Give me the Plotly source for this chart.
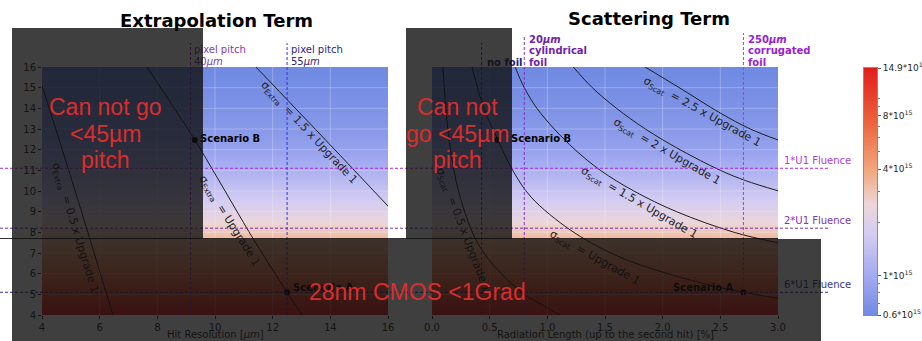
import math
import plotly.graph_objects as go

W, H = 922, 341

# ---------------- data ----------------
# background fluence profile (x10^15) versus the vertical axis value
fluence_y = [4, 5, 6, 7, 8, 9, 10, 11, 12, 13, 14, 15, 16]
fluence = [14.9, 9.2, 6.2, 4.3, 3.0, 2.1, 1.5, 1.12, 0.88, 0.76, 0.69, 0.64, 0.6]

cbar_vals = [0.6, 1, 4, 8, 14.9]
cbar_text = ["0.6*10<sup>15</sup>", "1*10<sup>15</sup>", "4*10<sup>15</sup>",
             "8*10<sup>15</sup>", "14.9*10<sup>15</sup>"]
cbar_minor = [0.7, 0.8, 0.9, 2, 3, 5, 6, 7, 9, 10]

left_xticks = [4, 6, 8, 10, 12, 14, 16]
right_xticks = [0.0, 0.5, 1.0, 1.5, 2.0, 2.5, 3.0]
right_xtext = ["0.0", "0.5", "1.0", "1.5", "2.0", "2.5", "3.0"]
yticks = list(range(4, 17))

# Extrapolation-term contours (hit resolution, y)
extra_05_x = [4.0, 5.15, 6.46]
extra_05_y = [15.1, 10.0, 4.0]
extra_1_x = [7.64, 9.3, 9.93, 11.35, 12.5, 13.02]
extra_1_y = [16, 12.47, 11.0, 7.63, 5.1, 4.0]
extra_15_x = [11.42, 13.95, 16.0]
extra_15_y = [16, 12.3, 9.27]

# Scattering-term contours (radiation length %, y)
scat_05_x = [0.095, 0.12, 0.16, 0.23, 0.35, 0.45, 0.60, 0.80, 0.95, 1.11]
scat_05_y = [16, 14, 12, 10, 8, 7, 6, 5, 4.5, 4]
scat_1_x = [0.347, 0.45, 0.572, 0.70, 0.86, 1.20, 1.55, 1.85, 2.35, 2.70, 3.0]
scat_1_y = [16, 14, 12.47, 11.0, 9.7, 8.11, 7.0, 6.34, 5.53, 5.1, 4.81]
scat_15_x = [0.72, 0.80, 0.91, 1.06, 1.24, 1.46, 1.75, 2.12, 2.62, 3.0]
scat_15_y = [16, 15, 14, 13, 12, 11, 10, 9, 8, 7.49]
scat_2_x = [1.225, 1.39, 1.60, 1.85, 2.15, 2.50, 2.72, 3.0]
scat_2_y = [16, 15, 14, 13, 12, 11, 10.5, 10.01]
scat_25_x = [1.847, 2.15, 2.50, 2.76, 3.0]
scat_25_y = [16, 14.98, 13.77, 13.0, 12.47]

scenario_left_x = [9.3, 12.5]
scenario_left_y = [12.47, 5.1]
scenario_right_x = [0.57, 2.70]
scenario_right_y = [12.47, 5.1]

fluence_levels = [11.1, 8.2, 5.1]
fluence_labels = ["1*U1 Fluence", "2*U1 Fluence", "6*U1 Fluence"]
pitch_x = [9.15, 12.5]
foil_x = [0.43, 0.8, 2.7]

# ---------------- helpers ----------------
def pxx(p):
    return p / W

def pxy(p):
    return 1 - p / H

FONT = "DejaVu Sans"
zmin, zmax = math.log10(0.6), math.log10(14.9)
cscale = [
    [0.0, "rgb(112,138,226)"],
    [0.15, "rgb(160,168,240)"],
    [0.33, "rgb(212,204,242)"],
    [0.45, "rgb(236,214,216)"],
    [0.58, "rgb(242,170,130)"],
    [0.78, "rgb(236,100,60)"],
    [1.0, "rgb(226,28,28)"],
]
zlog = [math.log10(v) for v in fluence]

fig = go.Figure()

# background heatmaps
fig.add_trace(go.Heatmap(x=[4, 16], y=fluence_y, z=[[v, v] for v in zlog],
                         colorscale=cscale, zmin=zmin, zmax=zmax, zsmooth="best",
                         showscale=False, hoverinfo="skip", xaxis="x", yaxis="y"))
fig.add_trace(go.Heatmap(x=[0, 3], y=fluence_y, z=[[v, v] for v in zlog],
                         colorscale=cscale, zmin=zmin, zmax=zmax, zsmooth="best",
                         showscale=False, hoverinfo="skip", xaxis="x2", yaxis="y"))
# colorbar as its own small heatmap
fig.add_trace(go.Heatmap(x=[0, 1], y=zlog, z=[[v, v] for v in zlog],
                         colorscale=cscale, zmin=zmin, zmax=zmax, zsmooth="best",
                         showscale=False, hoverinfo="skip", xaxis="x3", yaxis="y3"))

# grid lines
def grid(xt, xr, xa):
    gx, gy = [], []
    for t in xt[1:-1]:
        gx += [t, t, None]
        gy += [4, 16, None]
    for t in yticks[1:-1]:
        gx += [xr[0], xr[1], None]
        gy += [t, t, None]
    fig.add_trace(go.Scatter(x=gx, y=gy, mode="lines", xaxis=xa, yaxis="y",
                             line=dict(color="rgba(255,255,255,0.25)", width=1),
                             hoverinfo="skip", showlegend=False))

grid(left_xticks, [4, 16], "x")
grid(right_xticks, [0, 3], "x2")

def curve(xs, ys, xa):
    fig.add_trace(go.Scatter(x=xs, y=ys, mode="lines", xaxis=xa, yaxis="y",
                             line=dict(color="rgb(30,30,30)", width=1, shape="spline"),
                             hoverinfo="skip", showlegend=False, cliponaxis=True))

for xs, ys in [(extra_05_x, extra_05_y), (extra_1_x, extra_1_y), (extra_15_x, extra_15_y)]:
    curve(xs, ys, "x")
for xs, ys in [(scat_05_x, scat_05_y), (scat_1_x, scat_1_y), (scat_15_x, scat_15_y),
               (scat_2_x, scat_2_y), (scat_25_x, scat_25_y)]:
    curve(xs, ys, "x2")

fig.add_trace(go.Scatter(x=scenario_left_x, y=scenario_left_y, mode="markers", xaxis="x", yaxis="y",
                         marker=dict(color="black", size=6), showlegend=False, hoverinfo="skip"))
fig.add_trace(go.Scatter(x=scenario_right_x, y=scenario_right_y, mode="markers", xaxis="x2", yaxis="y",
                         marker=dict(color="black", size=6), showlegend=False, hoverinfo="skip"))

# ---------------- shapes (lines) ----------------
shapes = []
lvl_cols = ["rgb(170,40,230)", "rgb(115,50,175)", "rgb(45,45,145)"]
for lv, c in zip(fluence_levels, lvl_cols):
    shapes.append(dict(type="line", xref="paper", yref="y", x0=0, x1=pxx(828), y0=lv, y1=lv,
                       line=dict(color=c, width=1, dash="3px,2px"), layer="above"))
pitch_cols = ["rgb(130,50,200)", "rgb(50,50,225)"]
for xv, c in zip(pitch_x, pitch_cols):
    shapes.append(dict(type="line", xref="x", yref="paper", x0=xv, x1=xv, y0=pxy(315), y1=pxy(43),
                       line=dict(color=c, width=1, dash="3px,2px"), layer="above"))
foil_cols = ["rgb(60,60,200)", "rgb(130,50,200)", "rgb(160,60,220)"]
foil_top = [43, 35, 33]
for xv, c, t in zip(foil_x, foil_cols, foil_top):
    shapes.append(dict(type="line", xref="x2", yref="paper", x0=xv, x1=xv, y0=pxy(315), y1=pxy(t),
                       line=dict(color=c, width=1, dash="3px,2px"), layer="above"))
shapes.append(dict(type="line", xref="paper", yref="paper", x0=0, x1=pxx(778),
                   y0=pxy(238.5), y1=pxy(238.5), line=dict(color="rgba(0,0,0,0.8)", width=1),
                   layer="above"))

# ---------------- annotations ----------------
ann = []

def text(x, y, s, size=10, color="rgb(30,30,30)", xref="paper", yref="paper",
         xanchor="center", yanchor="middle", angle=0, family=FONT, xshift=0):
    ann.append(dict(x=x, y=y, xref=xref, yref=yref, text=s, showarrow=False,
                    xanchor=xanchor, yanchor=yanchor, textangle=angle, xshift=xshift,
                    font=dict(family=family, size=size, color=color)))

text(pxx(216.5), pxy(21), "<b>Extrapolation Term</b>", size=18, color="black")
text(pxx(649), pxy(19), "<b>Scattering Term</b>", size=18, color="black")
text(pxx(215), pxy(334), "Hit Resolution [<i>µm</i>]", size=10, color="rgb(40,40,40)")
text(pxx(605), pxy(334), "Radiation Length (up to the second hit) [%]", size=10, color="rgb(40,40,40)")

# contour labels
lab_col = "rgb(35,35,35)"
LS = 11
text(5.14, 8.21, "σ<sub>Extra</sub>  = 0.5 x Upgrade 1", LS, lab_col, "x", "y", angle=73)
text(10.49, 8.55, "σ<sub>Extra</sub>  = Upgrade 1", LS, lab_col, "x", "y", angle=58)
text(13.26, 12.81, "σ<sub>Extra</sub>  = 1.5 x Upgrade 1", LS, lab_col, "x", "y", angle=47)
text(0.269, 8.11, "σ<sub>Scat</sub>  = 0.5 x Upgrade 1", LS, lab_col, "x2", "y", angle=69)
text(1.413, 6.76, "σ<sub>Scat</sub>  = Upgrade 1", LS, lab_col, "x2", "y", angle=29)
text(1.795, 9.42, "σ<sub>Scat</sub>  = 1.5 x Upgrade 1", LS, lab_col, "x2", "y", angle=30)
text(2.038, 11.89, "σ<sub>Scat</sub>  = 2 x Upgrade 1", LS, lab_col, "x2", "y", angle=30)
text(2.341, 13.82, "σ<sub>Scat</sub>  = 2.5 x Upgrade 1", LS, lab_col, "x2", "y", angle=29)

# scenario labels
text(scenario_left_x[0], scenario_left_y[0] + 0.05, "<b>Scenario B</b>", 10, "black", "x", "y", xanchor="left", xshift=3)
text(scenario_left_x[1], scenario_left_y[1] + 0.25, "<b>Scenario A</b>", 10, "black", "x", "y", xanchor="left", xshift=4)
text(scenario_right_x[0], scenario_right_y[0] + 0.05, "<b>Scenario B</b>", 10, "black", "x2", "y", xanchor="left", xshift=11)
text(scenario_right_x[1], scenario_right_y[1] + 0.25, "<b>Scenario A</b>", 10, "black", "x2", "y", xanchor="right", xshift=-8)

# pitch / foil labels
pc = ["rgb(125,60,180)", "rgb(40,40,125)"]
for xv, c, mm in zip(pitch_x, pc, ["40", "55"]):
    text(xv, pxy(50), "pixel pitch", 10, c, "x", "paper", xanchor="left", xshift=2)
    text(xv, pxy(61), mm + "<i>µm</i>", 10, c, "x", "paper", xanchor="left", xshift=2)
text(foil_x[0], pxy(62), "<b>no foil</b>", 10, "rgb(30,30,120)", "x2", "paper", xanchor="left", xshift=3)
for i, s in enumerate(["<b>20</b><i><b>µm</b></i>", "<b>cylindrical</b>", "<b>foil</b>"]):
    text(foil_x[1], pxy(39 + 11.5 * i), s, 10, "rgb(110,35,170)", "x2", "paper", xanchor="left", xshift=3)
for i, s in enumerate(["<b>250</b><i><b>µm</b></i>", "<b>corrugated</b>", "<b>foil</b>"]):
    text(foil_x[2], pxy(39 + 11.5 * i), s, 10, "rgb(150,35,210)", "x2", "paper", xanchor="left", xshift=3)

# fluence labels
flc = ["rgb(170,60,220)", "rgb(120,55,185)", "rgb(55,55,145)"]
for lv, s, c in zip(fluence_levels, fluence_labels, flc):
    text(pxx(782), lv, s, 10, c, "paper", "y", xanchor="left", yanchor="bottom")

# dark overlay boxes
box = "rgba(15,15,15,0.8)"
for (x0, y0, w, h) in [(12, 28, 191, 211), (406, 28, 106, 211), (12, 239, 809, 102)]:
    ann.append(dict(x=pxx(x0), y=pxy(y0), xref="paper", yref="paper", text=" ",
                    showarrow=False, xanchor="left", yanchor="top", width=w, height=h,
                    bgcolor=box, borderpad=0, borderwidth=0))

# red remarks
red = "rgb(218,45,45)"
RF = "Liberation Sans"
for i, s in enumerate(["Can not go", "&lt;45µm", "pitch"]):
    text(pxx(105), pxy(107 + 26.5 * i), s, 23, red, family=RF)
for i, s in enumerate(["Can not", "go &lt;45µm", "pitch"]):
    text(pxx(457), pxy(107 + 26.5 * i), s, 23, red, family=RF)
text(pxx(417), pxy(292), "28nm CMOS &lt;1Grad", 23, red, family=RF)

# ---------------- layout ----------------
tickfont = dict(family=FONT, size=10, color="rgb(40,40,40)")
common = dict(showgrid=False, zeroline=False, showline=False, ticks="outside", ticklen=3,
              tickcolor="rgb(40,40,40)", tickfont=tickfont, automargin=False, fixedrange=True)

fig.update_layout(
    width=W, height=H, template="none",
    margin=dict(l=0, r=0, t=0, b=0),
    paper_bgcolor="white", plot_bgcolor="white",
    showlegend=False,
    xaxis=dict(domain=[pxx(42), pxx(388)], range=[4, 16], tickvals=left_xticks, anchor="y", **common),
    xaxis2=dict(domain=[pxx(432), pxx(778)], range=[0, 3], tickvals=right_xticks, ticktext=right_xtext,
                anchor="y", **common),
    yaxis=dict(domain=[pxy(315), pxy(67)], range=[4, 16], tickvals=yticks, anchor="x", **common),
    yaxis2=dict(domain=[pxy(315), pxy(67)], range=[4, 16], tickvals=yticks, anchor="x2",
                overlaying="y", showticklabels=False, showgrid=False, zeroline=False,
                ticks="outside", ticklen=3, tickcolor="rgb(40,40,40)", automargin=False),
    xaxis3=dict(domain=[pxx(864), pxx(877)], range=[0, 1], anchor="y3", showticklabels=False,
                ticks="", showgrid=False, zeroline=False, showline=True, mirror=True,
                linecolor="rgb(140,140,140)", linewidth=1, automargin=False),
    yaxis3=dict(domain=[pxy(315), pxy(68)], range=[zmin, zmax], anchor="x3", side="right",
                tickvals=[math.log10(v) for v in cbar_vals], ticktext=cbar_text,
                ticks="outside", ticklen=3, tickcolor="rgb(90,90,90)",
                tickfont=dict(family=FONT, size=9, color="rgb(40,40,40)"),
                minor=dict(tickvals=[math.log10(v) for v in cbar_minor], ticks="outside",
                           ticklen=2, tickcolor="rgb(120,120,120)"),
                showgrid=False, zeroline=False, showline=True, mirror=True,
                linecolor="rgb(140,140,140)", linewidth=1, automargin=False),
    shapes=shapes,
    annotations=ann,
)

fig.write_html("out.html", config={"displayModeBar": False},
               post_script="document.body.style.margin='0px';")
